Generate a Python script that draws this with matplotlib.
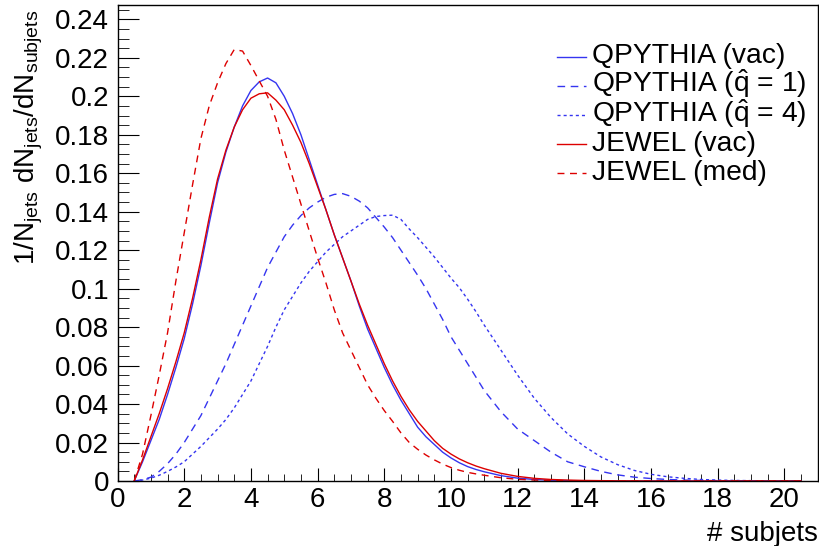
import numpy as np
import matplotlib
matplotlib.use("Agg")
import matplotlib.pyplot as plt
from matplotlib.ticker import MultipleLocator

# Police proche de Helvetica (style ROOT)
plt.rcParams['font.family'] = ['Liberation Sans', 'DejaVu Sans']
plt.rcParams['mathtext.fontset'] = 'custom'
plt.rcParams['mathtext.rm'] = 'Liberation Sans'
plt.rcParams['mathtext.it'] = 'Liberation Sans:italic'
plt.rcParams['mathtext.bf'] = 'Liberation Sans:bold'

# Nombre de subjets
n_subjets = [0.5, 0.75, 1.0, 1.25, 1.5, 1.75, 2.0, 2.25, 2.5, 2.75,
             3.0, 3.25, 3.5, 3.75, 4.0, 4.25, 4.5, 4.75, 5.0, 5.25,
             5.5, 5.75, 6.0, 6.25, 6.5, 6.75, 7.0, 7.25, 7.5, 7.75,
             8.0, 8.25, 8.5, 8.75, 9.0, 9.25, 9.5, 9.75, 10.0, 10.25,
             10.5, 10.75, 11.0,
             11.5, 12.0, 12.5, 13.0, 13.5, 14.0, 14.5, 15.0, 15.5, 16.0,
             16.5, 17.0, 17.5, 18.0, 18.5, 19.0, 19.5, 20.0, 20.5]

qpythia_vac = [0.0, 0.010, 0.021, 0.032, 0.045, 0.059, 0.074, 0.092, 0.112, 0.134,
               0.155, 0.171, 0.184, 0.195, 0.203, 0.2075, 0.2095, 0.207, 0.200, 0.191,
               0.180, 0.167, 0.154, 0.141, 0.128, 0.116, 0.104, 0.091, 0.079, 0.069,
               0.059, 0.050, 0.042, 0.035, 0.028, 0.023, 0.019, 0.015, 0.012, 0.0095,
               0.0075, 0.006, 0.0048,
               0.0028, 0.0015, 0.0008, 0.0004, 0.0002, 0.0001, 0.0001, 0.0, 0.0, 0.0,
               0.0, 0.0, 0.0, 0.0, 0.0, 0.0, 0.0, 0.0, 0.0]

qpythia_q1 = [0.0, 0.0007, 0.002, 0.005, 0.009, 0.014, 0.020, 0.027, 0.034, 0.043,
              0.052, 0.061, 0.071, 0.081, 0.091, 0.101, 0.111, 0.119, 0.127, 0.133,
              0.138, 0.142, 0.145, 0.1475, 0.149, 0.1494, 0.148, 0.1455, 0.142, 0.137,
              0.132, 0.1265, 0.120, 0.1135, 0.107, 0.100, 0.092, 0.084, 0.075, 0.068,
              0.061, 0.054, 0.047,
              0.036, 0.027, 0.021, 0.015, 0.010, 0.0074, 0.005, 0.0032, 0.002, 0.0013,
              0.0008, 0.0005, 0.0003, 0.0002, 0.0001, 0.00005, 0.0, 0.0, 0.0]

qpythia_q4 = [0.0, 0.0005, 0.0015, 0.003, 0.005, 0.0073, 0.010, 0.014, 0.018, 0.0225,
              0.027, 0.032, 0.038, 0.045, 0.052, 0.061, 0.070, 0.080, 0.089, 0.096,
              0.103, 0.109, 0.114, 0.119, 0.123, 0.127, 0.130, 0.133, 0.136, 0.1375,
              0.138, 0.1382, 0.136, 0.131, 0.1265, 0.1215, 0.1165, 0.111, 0.1055, 0.1005,
              0.0945, 0.088, 0.081,
              0.068, 0.055, 0.043, 0.033, 0.0245, 0.018, 0.0125, 0.0085, 0.0055, 0.0035,
              0.0022, 0.0014, 0.0008, 0.0005, 0.0003, 0.0002, 0.0001, 0.0001, 0.0]

jewel_vac = [0.0, 0.011, 0.023, 0.035, 0.048, 0.062, 0.077, 0.095, 0.115, 0.137,
             0.157, 0.172, 0.184, 0.193, 0.199, 0.2013, 0.2018, 0.198, 0.193, 0.185,
             0.176, 0.165, 0.153, 0.141, 0.128, 0.116, 0.104, 0.092, 0.081, 0.071,
             0.061, 0.052, 0.044, 0.037, 0.031, 0.026, 0.021, 0.017, 0.014, 0.0115,
             0.0095, 0.0078, 0.0064,
             0.004, 0.0024, 0.0014, 0.0008, 0.0005, 0.0003, 0.0002, 0.0001, 0.0001, 0.0,
             0.0, 0.0, 0.0, 0.0, 0.0, 0.0, 0.0, 0.0, 0.0]

jewel_med = [0.0, 0.014, 0.034, 0.055, 0.077, 0.104, 0.129, 0.154, 0.178, 0.195,
             0.207, 0.217, 0.2243, 0.2235, 0.216, 0.208, 0.200, 0.188, 0.172, 0.158,
             0.144, 0.130, 0.116, 0.103, 0.089, 0.077, 0.068, 0.059, 0.050, 0.043,
             0.0366, 0.031, 0.025, 0.020, 0.0165, 0.0135, 0.011, 0.0088, 0.007, 0.0056,
             0.0045, 0.0037, 0.003,
             0.0017, 0.0009, 0.0005, 0.0003, 0.0001, 0.0, 0.0, 0.0, 0.0, 0.0,
             0.0, 0.0, 0.0, 0.0, 0.0, 0.0, 0.0, 0.0, 0.0]

labels = ['QPYTHIA (vac)',
          r'QPYTHIA ($\hat{\mathrm{q}}$ = 1)',
          r'QPYTHIA ($\hat{\mathrm{q}}$ = 4)',
          'JEWEL (vac)',
          'JEWEL (med)']

y_tick_labels = ['0', '0.02', '0.04', '0.06', '0.08', '0.1', '0.12',
                 '0.14', '0.16', '0.18', '0.2', '0.22', '0.24']

blue = '#3535f0'
red = '#dd0000'

series = [qpythia_vac, qpythia_q1, qpythia_q4, jewel_vac, jewel_med]
colors = [blue, blue, blue, red, red]
dash_styles = [None, (5.5, 4), (2.2, 2.2), None, (5, 4)]

fig = plt.figure(figsize=(8.19, 5.46), dpi=100)
ax = fig.add_axes([0.1435, 0.119, 0.855, 0.872])

for values, col, dsh, lab in zip(series, colors, dash_styles, labels):
    kw = {} if dsh is None else {'dashes': dsh}
    ax.plot(n_subjets, values, color=col, lw=1.0, label=lab, **kw)

ax.set_xlim(0, 21)
ax.set_ylim(0, 0.2475)

# Graduations style ROOT
ax.xaxis.set_major_locator(MultipleLocator(2))
ax.xaxis.set_minor_locator(MultipleLocator(0.5))
ax.yaxis.set_minor_locator(MultipleLocator(0.005))
ax.tick_params(axis='both', which='both', direction='in', labelsize=20,
               top=False, right=False)
ax.tick_params(axis='x', which='major', length=9.5, pad=4)
ax.tick_params(axis='x', which='minor', length=5)
ax.tick_params(axis='y', which='major', length=15, pad=6)
ax.tick_params(axis='y', which='minor', length=8)
ax.set_yticks(np.arange(0, 0.25, 0.02))
ax.set_yticklabels(y_tick_labels)
for sp in ax.spines.values():
    sp.set_linewidth(1.0)

ax.set_xlabel('# subjets', fontsize=20, loc='right')
ax.xaxis.set_label_coords(1.0, -0.085)
ax.set_ylabel(r'1/N$_{\mathrm{jets}}$ dN$_{\mathrm{jets}}$/dN$_{\mathrm{subjets}}$',
              fontsize=20, loc='top')
ax.yaxis.set_label_coords(-0.104, 0.99)

# Légende à la ROOT : lignes régulièrement espacées, sans cadre
row_top = 0.8914
row_step = 0.0613
for i, (col, dsh, lab) in enumerate(zip(colors, dash_styles, labels)):
    y = row_top - i * row_step
    kw = {} if dsh is None else {'dashes': dsh}
    ax.plot([0.627, 0.6697], [y, y], transform=ax.transAxes, color=col,
            lw=1.0, clip_on=False, **kw)
    ax.text(0.6782, y - 0.0139, lab, transform=ax.transAxes, fontsize=20.3,
            ha='left', va='baseline')

fig.savefig('out.png', dpi=100)
